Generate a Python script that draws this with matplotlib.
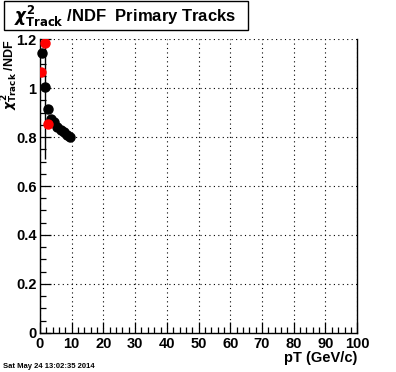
import matplotlib
matplotlib.use("Agg")
import matplotlib.pyplot as plt
from matplotlib.patches import Rectangle
from matplotlib.ticker import MultipleLocator

# Data
black_x = [0.5, 1.5, 2.5, 3.5, 4.5, 5.5, 6.5, 7.5, 8.5, 9.5]
black_y = [1.145, 1.005, 0.915, 0.875, 0.86, 0.84, 0.83, 0.82, 0.81, 0.80]
red_x = [0.25, 1.5, 2.5]
red_y = [1.065, 1.185, 0.855]
red_err = [0.0, 0.475, 0.0]
x_ticks = [0, 10, 20, 30, 40, 50, 60, 70, 80, 90, 100]
y_ticks = [0, 0.2, 0.4, 0.6, 0.8, 1.0, 1.2]
y_tick_labels = ["0", "0.2", "0.4", "0.6", "0.8", "1", "1.2"]

plt.rcParams['font.family'] = ['Liberation Sans', 'DejaVu Sans']
plt.rcParams['font.weight'] = 'bold'

fig = plt.figure(figsize=(3.96, 3.72), dpi=100)
ax = fig.add_axes([0.101, 0.105, 0.801, 0.79])
ax.set_xlim(0, 100)
ax.set_ylim(0, 1.2)

ax.set_xticks(x_ticks)
ax.set_xticklabels([str(t) for t in x_ticks])
ax.set_yticks(y_ticks)
ax.set_yticklabels(y_tick_labels)
ax.xaxis.set_minor_locator(MultipleLocator(2))
ax.yaxis.set_minor_locator(MultipleLocator(0.05))
ax.tick_params(which='both', direction='in', top=False, right=False,
               labelsize=10.5, width=0.9)
ax.tick_params(which='major', length=8)
ax.tick_params(which='minor', length=4.5)
ax.tick_params(axis='x', pad=3)
ax.tick_params(axis='y', pad=2.5)
for lab in ax.get_xticklabels() + ax.get_yticklabels():
    lab.set_fontweight('bold')

ax.grid(True, which='major', linestyle=(0, (1, 3)), color='black', linewidth=0.8)
ax.spines['top'].set_visible(False)
for s in ['left', 'right', 'bottom']:
    ax.spines[s].set_linewidth(1.0)

ax.errorbar(black_x, black_y, fmt='o', color='black', markersize=6.5, zorder=3,
            clip_on=False)
ax.errorbar(red_x, red_y, yerr=red_err, fmt='o', color='red', ecolor='black',
            elinewidth=1.0, markersize=6.5, zorder=4)

ax.set_xlabel('pT (GeV/c)', fontsize=10.5, fontweight='bold', loc='right', labelpad=0)

# Y axis title placed like the reference
fig.text(9.5 / 396, 1 - 40 / 372, r'$\chi^{2}_{\mathbf{Track}}$ /NDF', rotation=90,
         fontsize=9, fontweight='bold', ha='center', va='top')

# Title box
fig.patches.append(Rectangle((4 / 396, 1 - 30 / 372), 244 / 396, 29 / 372,
                             transform=fig.transFigure, facecolor='white',
                             edgecolor='black', linewidth=1.0))
fig.text(14 / 396, 1 - 16 / 372, r'$\chi^{2}_{\mathbf{Track}}$ /NDF  Primary Tracks',
         fontsize=12, fontweight='bold', va='center', ha='left')

fig.text(3 / 396, 1 - 366 / 372, 'Sat May 24 13:02:35 2014', fontsize=5.5,
         fontweight='bold', va='center', ha='left')

fig.savefig('out.png', dpi=100)
